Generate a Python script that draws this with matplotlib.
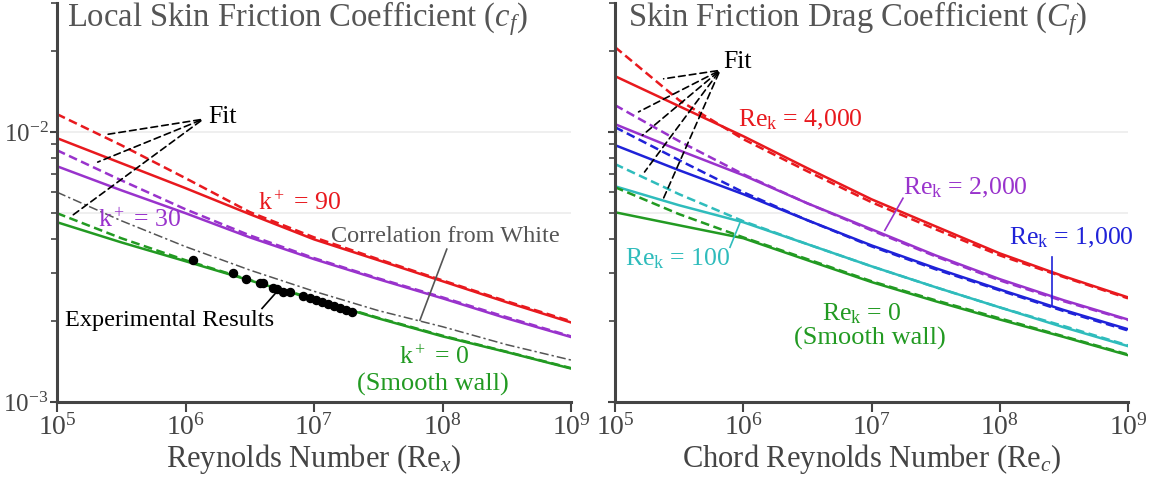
import numpy as np
import matplotlib
matplotlib.use("Agg")
import matplotlib.pyplot as plt
from matplotlib.ticker import LogLocator, NullLocator, NullFormatter

plt.rcParams['font.family'] = ['Liberation Serif', 'DejaVu Serif']
plt.rcParams['mathtext.fontset'] = 'custom'
plt.rcParams['mathtext.rm'] = 'Liberation Serif'
plt.rcParams['mathtext.it'] = 'Liberation Serif:italic'
plt.rcParams['axes.unicode_minus'] = False

# Reynolds numbers where the curves were read (every half decade)
re_pts = [1e5, 3.16e5, 1e6, 3.16e6, 1e7, 3.16e7, 1e8, 3.16e8, 1e9]

# Left panel: local skin friction coefficient c_f
cf_k90 = [9.48e-3, 7.66e-3, 6.19e-3, 4.96e-3, 4.00e-3, 3.35e-3, 2.80e-3, 2.34e-3, 1.97e-3]
cf_k90_fit = [1.163e-2, 8.93e-3, 6.74e-3, 5.05e-3, 4.07e-3, 3.38e-3, 2.82e-3, 2.36e-3, 1.99e-3]
cf_k30 = [7.46e-3, 6.08e-3, 5.00e-3, 4.07e-3, 3.38e-3, 2.85e-3, 2.42e-3, 2.04e-3, 1.74e-3]
cf_k30_fit = [8.55e-3, 6.62e-3, 5.17e-3, 4.14e-3, 3.41e-3, 2.87e-3, 2.44e-3, 2.06e-3, 1.75e-3]
cf_k0 = [4.63e-3, 3.90e-3, 3.32e-3, 2.82e-3, 2.40e-3, 2.04e-3, 1.75e-3, 1.53e-3, 1.33e-3]
cf_k0_fit = [5.00e-3, 4.04e-3, 3.35e-3, 2.83e-3, 2.41e-3, 2.05e-3, 1.76e-3, 1.535e-3, 1.335e-3]
cf_white = [5.98e-3, 4.69e-3, 3.76e-3, 3.08e-3, 2.57e-3, 2.18e-3, 1.90e-3, 1.63e-3, 1.43e-3]

exp_re = [1.14e6, 2.34e6, 2.96e6, 3.8e6, 4.0e6, 4.8e6, 5.15e6, 5.74e6, 6.5e6,
          8.2e6, 9.3e6, 1.04e7, 1.15e7, 1.28e7, 1.43e7, 1.59e7, 1.78e7, 1.98e7]
exp_cf = [3.35e-3, 3.01e-3, 2.85e-3, 2.76e-3, 2.75e-3, 2.65e-3, 2.62e-3, 2.55e-3, 2.55e-3,
          2.46e-3, 2.42e-3, 2.38e-3, 2.34e-3, 2.30e-3, 2.26e-3, 2.22e-3, 2.19e-3, 2.16e-3]

# Right panel: skin friction drag coefficient C_f
Cf_4000 = [1.608e-2, 1.245e-2, 9.64e-3, 7.34e-3, 5.63e-3, 4.47e-3, 3.55e-3, 2.92e-3, 2.44e-3]
Cf_4000_fit = [2.06e-2, 1.31e-2, 9.40e-3, 7.15e-3, 5.49e-3, 4.36e-3, 3.49e-3, 2.90e-3, 2.42e-3]
Cf_2000 = [1.068e-2, 8.55e-3, 6.91e-3, 5.44e-3, 4.36e-3, 3.49e-3, 2.85e-3, 2.38e-3, 2.02e-3]
Cf_2000_fit = [1.256e-2, 9.24e-3, 6.97e-3, 5.44e-3, 4.32e-3, 3.46e-3, 2.82e-3, 2.36e-3, 2.01e-3]
Cf_1000 = [8.93e-3, 7.21e-3, 5.88e-3, 4.71e-3, 3.80e-3, 3.13e-3, 2.61e-3, 2.19e-3, 1.86e-3]
Cf_1000_fit = [1.041e-2, 7.86e-3, 5.98e-3, 4.71e-3, 3.77e-3, 3.10e-3, 2.59e-3, 2.17e-3, 1.84e-3]
Cf_100 = [6.29e-3, 5.35e-3, 4.63e-3, 3.84e-3, 3.18e-3, 2.66e-3, 2.24e-3, 1.89e-3, 1.61e-3]
Cf_100_fit = [7.60e-3, 5.88e-3, 4.67e-3, 3.84e-3, 3.18e-3, 2.66e-3, 2.24e-3, 1.91e-3, 1.62e-3]
Cf_0 = [5.04e-3, 4.51e-3, 4.04e-3, 3.35e-3, 2.78e-3, 2.36e-3, 2.02e-3, 1.74e-3, 1.49e-3]
Cf_0_fit = [6.24e-3, 4.96e-3, 4.07e-3, 3.38e-3, 2.80e-3, 2.38e-3, 2.04e-3, 1.75e-3, 1.50e-3]

RED = '#e8191e'
PURPLE = '#9933cc'
BLUE = '#1f22d8'
CYAN = '#2fbcbc'
GREEN = '#229a22'
AXC = '#444444'

fig = plt.figure(figsize=(11.58, 4.82), dpi=100)
ax1 = fig.add_axes([57 / 1158, 80 / 482, 514 / 1158, 399 / 482])
ax2 = fig.add_axes([615 / 1158, 80 / 482, 513 / 1158, 399 / 482])

for ax in (ax1, ax2):
    ax.set_xscale('log')
    ax.set_yscale('log')
    ax.set_xlim(1e5, 1e9)
    ax.set_ylim(1e-3, 3e-2)
    for s in ('top', 'right'):
        ax.spines[s].set_visible(False)
    for s in ('left', 'bottom'):
        ax.spines[s].set_linewidth(2.2)
        ax.spines[s].set_color(AXC)
    ax.xaxis.set_major_locator(LogLocator(base=10, numticks=10))
    ax.xaxis.set_minor_locator(NullLocator())
    ax.yaxis.set_minor_locator(LogLocator(base=10, subs=np.arange(2, 10), numticks=10))
    ax.yaxis.set_minor_formatter(NullFormatter())
    ax.tick_params(axis='x', which='major', direction='out', length=7, width=1.5,
                   color=AXC, labelsize=20, labelcolor=AXC, pad=2)
    ax.tick_params(axis='y', which='major', direction='out', length=5, width=1.5,
                   color=AXC, labelsize=18, labelcolor=AXC, pad=1)
    ax.tick_params(axis='y', which='minor', direction='out', length=4, width=1.2, color=AXC)
    for g in (1e-2, 5e-3):
        ax.axhline(g, color='#ececec', lw=1.2, zorder=0)

ax2.tick_params(axis='y', which='both', labelleft=False)

lw = 1.8
dash = (0, (3.5, 1.8))

# ---- left panel ----
ax1.plot(re_pts, cf_k90, color=RED, lw=lw)
ax1.plot(re_pts, cf_k90_fit, color=RED, lw=lw, ls=dash)
ax1.plot(re_pts, cf_k30, color=PURPLE, lw=lw)
ax1.plot(re_pts, cf_k30_fit, color=PURPLE, lw=lw, ls=dash)
ax1.plot(re_pts, cf_white, color='#555555', lw=1.1, ls=(0, (6, 2, 1.5, 2)))
ax1.plot(re_pts, cf_k0, color=GREEN, lw=lw)
ax1.plot(re_pts, cf_k0_fit, color=GREEN, lw=lw, ls=dash)
ax1.plot(exp_re, exp_cf, 'o', color='black', ms=5.8, zorder=5)

ann = dict(arrowprops=dict(arrowstyle='-', color='black', lw=1.2, ls=(0, (4, 2.5))))
ax1.text(1.5e6, 1.14e-2, 'Fit', fontsize=18.5, ha='left', va='center', color='black')
for p in [(2.24e5, 9.72e-3), (1.98e5, 7.66e-3), (1.26e5, 4.83e-3)]:
    ax1.annotate('', xy=p, xytext=(1.37e6, 1.114e-2), **ann)

ax1.text(7.57e5, 2.01e-3, 'Experimental Results', fontsize=17.5, ha='center', va='center')
ax1.plot([3.94e6, 5.25e6], [2.22e-3, 2.59e-3], color='black', lw=1.2)
ax1.text(1.06e8, 4.11e-3, 'Correlation from White', fontsize=17.5, ha='center', va='center',
         color='#555555')
ax1.plot([1.08e8, 6.68e7], [3.68e-3, 2.01e-3], color='#555555', lw=1.2)
ax1.text(7.78e6, 5.45e-3, 'k$^+$ = 90', fontsize=18.5, ha='center', va='center', color=RED)
ax1.text(4.43e5, 4.71e-3, 'k$^+$ = 30', fontsize=18.5, ha='center', va='center', color=PURPLE)
ax1.text(8.59e7, 1.46e-3, 'k$^+$ = 0', fontsize=18.5, ha='center', va='center', color=GREEN)
ax1.text(8.44e7, 1.16e-3, '(Smooth wall)', fontsize=19, ha='center', va='center', color=GREEN)

ax1.set_xlabel('Reynolds Number (Re$_x$)', fontsize=22, color=AXC, labelpad=1)

# ---- right panel ----
for vals, fit, c in [(Cf_4000, Cf_4000_fit, RED), (Cf_2000, Cf_2000_fit, PURPLE),
                     (Cf_1000, Cf_1000_fit, BLUE), (Cf_100, Cf_100_fit, CYAN),
                     (Cf_0, Cf_0_fit, GREEN)]:
    ax2.plot(re_pts, vals, color=c, lw=lw)
    ax2.plot(re_pts, fit, color=c, lw=lw, ls=dash)

ax2.text(6.95e5, 1.81e-2, 'Fit', fontsize=18.5, ha='left', va='center', color='black')
for p in [(2.28e5, 1.567e-2), (1.46e5, 1.173e-2), (1.57e5, 9.56e-3), (1.65e5, 6.97e-3),
          (2.28e5, 5.40e-3)]:
    ax2.annotate('', xy=p, xytext=(6.59e5, 1.69e-2), **ann)

ax2.text(2.77e6, 1.105e-2, 'Re$_\\mathrm{k}$ = 4,000', fontsize=18.5, ha='center', va='center',
         color=RED)
ax2.text(5.36e7, 6.19e-3, 'Re$_\\mathrm{k}$ = 2,000', fontsize=18.5, ha='center', va='center',
         color=PURPLE)
ax2.plot([1.76e7, 1.27e7], [5.68e-3, 4.32e-3], color=PURPLE, lw=1.2)
ax2.text(3.6e8, 4.04e-3, 'Re$_\\mathrm{k}$ = 1,000', fontsize=18.5, ha='center', va='center',
         color=BLUE)
ax2.plot([2.55e8, 2.55e8], [3.44e-3, 2.28e-3], color=BLUE, lw=1.2)
ax2.text(3.1e5, 3.40e-3, 'Re$_\\mathrm{k}$ = 100', fontsize=18.5, ha='center', va='center',
         color=CYAN)
ax2.plot([9.6e5, 7.88e5], [4.71e-3, 3.74e-3], color=CYAN, lw=1.2)
ax2.text(8.43e6, 2.13e-3, 'Re$_\\mathrm{k}$ = 0', fontsize=18.5, ha='center', va='center',
         color=GREEN)
ax2.text(9.73e6, 1.72e-3, '(Smooth wall)', fontsize=19, ha='center', va='center', color=GREEN)

ax2.set_xlabel('Chord Reynolds Number (Re$_c$)', fontsize=22, color=AXC, labelpad=1)

fig.text(297 / 1158, 1 - 26 / 482, 'Local Skin Friction Coefficient ($c_f$)', fontsize=23.5,
         ha='center', va='baseline', color='#555555')
fig.text(858 / 1158, 1 - 26 / 482, 'Skin Friction Drag Coefficient ($C_f$)', fontsize=23.5,
         ha='center', va='baseline', color='#555555')

fig.savefig('out.png', dpi=100, facecolor='white')
